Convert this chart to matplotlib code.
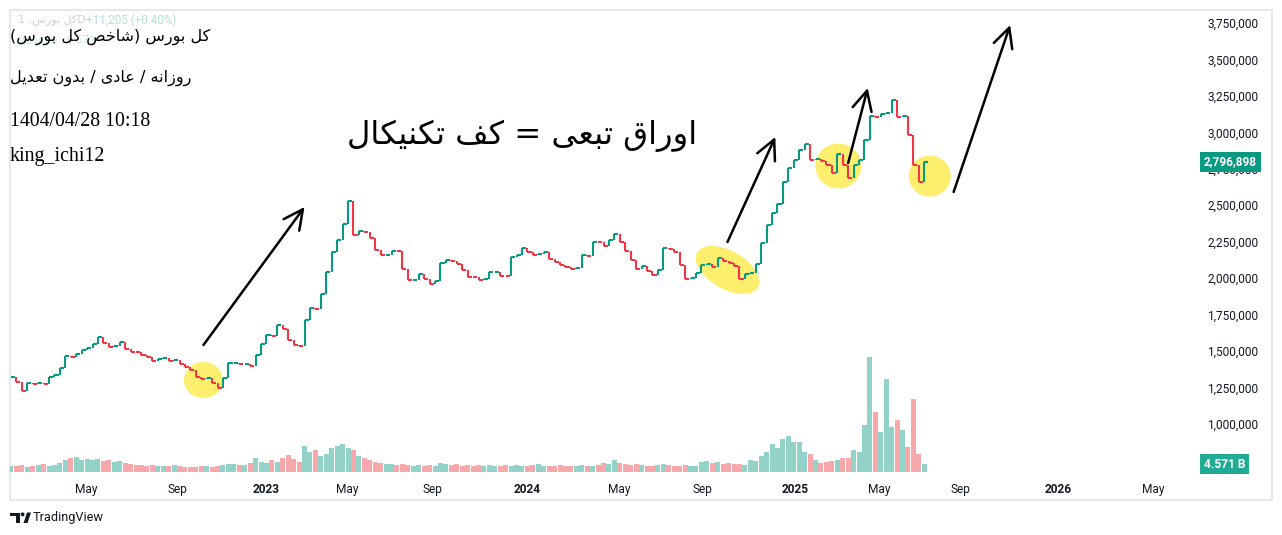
import numpy as np
import matplotlib.pyplot as plt
from matplotlib import transforms
from matplotlib.collections import LineCollection
from matplotlib.patches import Ellipse, Rectangle, Circle, Polygon

# weekly samples (5 trading bars each)
closes = [
    1322000, 1288000, 1226000, 1281000, 1274000, 1281000, 1274000, 1322000, 1336000, 1384000,
    1466000, 1459000, 1480000, 1507000, 1521000, 1548000, 1596000, 1555000, 1528000, 1535000,
    1562000, 1514000, 1493000, 1490000, 1473000, 1459000, 1432000, 1445000, 1452000, 1432000,
    1439000, 1411000, 1390000, 1370000, 1322000, 1308000, 1315000, 1281000, 1246000, 1315000,
    1418000, 1420000, 1411000, 1414000, 1397000, 1473000, 1548000, 1610000, 1603000, 1679000,
    1651000, 1576000, 1541000, 1535000, 1713000, 1795000, 1788000, 1891000, 2042000, 2179000,
    2262000, 2371000, 2530000, 2296000, 2323000, 2316000, 2275000, 2193000, 2159000, 2162000,
    2186000, 2183000, 2063000, 1987000, 1990000, 2028000, 1994000, 1960000, 1980000, 2104000,
    2124000, 2120000, 2097000, 2056000, 2008000, 2005000, 1987000, 1994000, 2042000, 2045000,
    2015000, 2012000, 2145000, 2159000, 2207000, 2179000, 2159000, 2166000, 2179000, 2131000,
    2111000, 2090000, 2076000, 2063000, 2070000, 2159000, 2155000, 2248000, 2245000, 2220000,
    2262000, 2303000, 2248000, 2186000, 2124000, 2063000, 2083000, 2049000, 2022000, 2056000,
    2207000, 2200000, 2179000, 2090000, 1994000, 2001000, 2035000, 2090000, 2097000, 2076000,
    2138000, 2118000, 2104000, 2083000, 1994000, 2028000, 2035000, 2097000, 2241000, 2364000,
    2447000, 2508000, 2659000, 2755000, 2810000, 2879000, 2920000, 2810000, 2815000, 2805000,
    2776000, 2721000, 2851000, 2776000, 2687000, 2776000, 2810000, 2947000, 3112000, 3108000,
    3126000, 3133000, 3225000, 3105000, 3112000, 2982000, 2776000, 2659000, 2796898,
]

# volume in billions
volumes = [
    3.4, 3.4, 4.0, 2.9, 3.4, 4.0, 4.6, 3.4, 4.0, 5.1,
    6.9, 8.0, 8.6, 6.9, 7.4, 6.9, 7.4, 6.3, 6.9, 5.7,
    6.3, 5.1, 4.6, 4.0, 4.0, 3.4, 4.0, 3.4, 3.4, 3.4,
    4.0, 3.4, 2.9, 2.9, 2.9, 3.4, 3.4, 2.9, 3.4, 4.0,
    4.6, 4.6, 4.0, 4.0, 5.1, 8.0, 5.7, 5.1, 6.9, 5.7,
    8.0, 9.7, 7.4, 5.7, 14.8, 11.4, 12.6, 9.1, 10.3, 13.7,
    14.8, 16.0, 13.7, 12.6, 9.1, 8.0, 6.9, 5.7, 5.1, 4.6,
    4.6, 4.0, 4.6, 4.0, 3.4, 4.0, 3.4, 4.0, 3.4, 5.1,
    4.6, 4.0, 4.6, 3.4, 4.0, 3.4, 4.0, 3.4, 4.0, 3.4,
    3.4, 4.0, 3.4, 4.0, 3.4, 3.4, 4.0, 4.6, 3.4, 3.4,
    3.4, 4.0, 3.4, 3.4, 3.4, 4.0, 3.4, 3.4, 4.0, 5.1,
    4.6, 6.9, 5.1, 4.6, 4.0, 4.6, 4.0, 3.4, 3.4, 4.0,
    4.6, 4.0, 3.4, 3.4, 4.0, 3.4, 3.4, 5.7, 6.3, 5.1,
    5.7, 4.6, 5.1, 4.6, 4.6, 4.0, 6.9, 6.3, 9.1, 11.4,
    16.0, 13.7, 18.8, 20.6, 17.1, 17.1, 11.4, 10.3, 6.9, 5.1,
    5.7, 6.3, 6.9, 8.0, 8.0, 12.6, 11.4, 26.8, 65.7, 34.3,
    22.8, 53.1, 25.7, 29.7, 24.0, 14.3, 41.7, 10.3, 4.571,
]

bars_per_sample = 5
tick_labels = ["May", "Sep", "2023", "May", "Sep", "2024", "May", "Sep",
               "2025", "May", "Sep", "2026", "May"]
tick_bars = [69, 153, 235, 309, 388, 475, 559, 636, 721, 799, 873, 963, 1051]
price_ticks = list(range(1000000, 3750001, 250000))

# annotations: ellipses (bar, price, w px, h px, angle) and arrows
marks = [(177, 1301000, 39, 36, 0), (659, 2056000, 70, 38, -30),
         (761, 2769000, 46, 45, 0), (845, 2700000, 42, 41, 0)]
arrows = [((177, 1541000), (270, 2488000)), ((659, 2248000), (703, 2968000)),
          ((770, 2790000), (788, 3304000)), ((867, 2591000), (919, 3736000))]

title1 = "کل بورس (شاخص کل بورس)"
title2 = "روزانه / عادی / بدون تعدیل"
stamp = "1404/04/28 10:18"
author = "king_ichi12"
note = "اوراق تبعی = کف تکنیکال"

# --- minimal persian shaping (matplotlib has no bidi/shaping) ---
FORMS = {
    'ا': ('\uFE8D', '\uFE8E', None, None),
    'ب': ('\uFE8F', '\uFE90', '\uFE91', '\uFE92'),
    'ت': ('\uFE95', '\uFE96', '\uFE97', '\uFE98'),
    'خ': ('\uFEA5', '\uFEA6', '\uFEA7', '\uFEA8'),
    'د': ('\uFEA9', '\uFEAA', None, None),
    'ر': ('\uFEAD', '\uFEAE', None, None),
    'ز': ('\uFEAF', '\uFEB0', None, None),
    'س': ('\uFEB1', '\uFEB2', '\uFEB3', '\uFEB4'),
    'ش': ('\uFEB5', '\uFEB6', '\uFEB7', '\uFEB8'),
    'ص': ('\uFEB9', '\uFEBA', '\uFEBB', '\uFEBC'),
    'ع': ('\uFEC9', '\uFECA', '\uFECB', '\uFECC'),
    'ف': ('\uFED1', '\uFED2', '\uFED3', '\uFED4'),
    'ق': ('\uFED5', '\uFED6', '\uFED7', '\uFED8'),
    'ک': ('\uFB8E', '\uFB8F', '\uFB90', '\uFB91'),
    'ل': ('\uFEDD', '\uFEDE', '\uFEDF', '\uFEE0'),
    'ن': ('\uFEE5', '\uFEE6', '\uFEE7', '\uFEE8'),
    'ه': ('\uFEE9', '\uFEEA', '\uFEEB', '\uFEEC'),
    'و': ('\uFEED', '\uFEEE', None, None),
    'ی': ('\uFBFC', '\uFBFD', '\uFBFE', '\uFBFF'),
}
MIRROR = {'(': ')', ')': '('}


def fa(s):
    out = []
    for i, c in enumerate(s):
        if c not in FORMS:
            out.append(MIRROR.get(c, c))
            continue
        prev = s[i - 1] if i > 0 else ''
        nxt = s[i + 1] if i + 1 < len(s) else ''
        jp = prev in FORMS and FORMS[prev][2] is not None
        jn = FORMS[c][2] is not None and nxt in FORMS
        f = FORMS[c]
        if jp and jn:
            out.append(f[3])
        elif jp:
            out.append(f[1])
        elif jn:
            out.append(f[2])
        else:
            out.append(f[0])
    return ''.join(out[::-1])


W, H = 1282, 535
fig = plt.figure(figsize=(W / 100, H / 100), dpi=100)
fig.patch.set_facecolor('white')


def box(x0, y0, x1, y1):
    return [x0 / W, 1 - y1 / H, (x1 - x0) / W, (y1 - y0) / H]


bg = fig.add_axes([0, 0, 1, 1], zorder=0)
bg.set_xlim(0, W)
bg.set_ylim(H, 0)
bg.axis('off')
bg.add_patch(Rectangle((10, 10), 1262, 490, fc='none', ec='#e0e3eb', lw=1.2))

vax = fig.add_axes(box(10, 10, 1170, 472), zorder=1)
ax = fig.add_axes(box(10, 10, 1170, 472), zorder=2, sharex=vax)
for a in (ax, vax):
    a.patch.set_visible(False)
    for s in a.spines.values():
        s.set_visible(False)

c = np.array(closes, dtype=float)
o = np.r_[c[0], c[:-1]]
x = np.arange(len(c)) * bars_per_sample
up = c >= o
green, red = '#089981', '#f23645'
col = np.where(up, green, red)
vcol = np.where(up, '#92d2c8', '#f7a8ab')

vax.bar(x, volumes, width=4.6, color=vcol, linewidth=0)
vax.set_ylim(0, 264)
vax.set_yticks([])
vax.tick_params(axis='x', length=0, labelbottom=False)

# thin candle bodies packed side by side: vertical body + short flat run at the close
segs, segcol = [], []
for xi, oi, ci, cc in zip(x, o, c, col):
    segs.append([(xi, oi), (xi, ci)])
    segs.append([(xi, ci), (xi + bars_per_sample * 0.75, ci)])
    segcol += [cc, cc]
ax.add_collection(LineCollection(segs, colors=segcol, linewidths=1.5,
                                 capstyle='butt', zorder=3))
ax.set_xlim(-0.9, 1066)
ax.set_ylim(670300, 3839000)

ax.yaxis.tick_right()
ax.set_yticks(price_ticks)
ax.set_yticklabels([f"{v:,}" for v in price_ticks])
ax.tick_params(axis='y', length=0, pad=27, labelsize=8.6, labelcolor='#131722')
ax.set_xticks(tick_bars)
ax.set_xticklabels(tick_labels)
ax.tick_params(axis='x', length=0, pad=8, labelsize=8.6, labelcolor='#131722')
for t in ax.get_yticklabels() + ax.get_xticklabels():
    t.set_family('Roboto')
for t in ax.get_xticklabels():
    if t.get_text().isdigit():
        t.set_fontweight('bold')

for bx, by, w, h, ang in marks:
    tr = fig.dpi_scale_trans + transforms.ScaledTranslation(bx, by, ax.transData)
    ax.add_patch(Ellipse((0, 0), w / 100, h / 100, angle=ang, transform=tr,
                         fc='#fdee6e', ec='none', zorder=1))

for (x0, y0), (x1, y1) in arrows:
    ax.annotate('', xy=(x1, y1), xytext=(x0, y0),
                arrowprops=dict(arrowstyle='->,head_length=0.7,head_width=0.35',
                                mutation_scale=20, lw=1.8, color='black',
                                shrinkA=0, shrinkB=0), zorder=5)

# last value labels on the scales
tp = transforms.blended_transform_factory(fig.transFigure, ax.transData)
ax.text(1204 / W, closes[-1], f"{closes[-1]:,}", transform=tp, clip_on=False,
        ha='left', va='center', color='white', fontsize=8.6, family='Roboto',
        fontweight='bold', zorder=10,
        bbox=dict(boxstyle='square,pad=0.3', fc=green, ec='none'))
tv = transforms.blended_transform_factory(fig.transFigure, vax.transData)
vax.text(1204 / W, volumes[-1], f"{volumes[-1]:.3f} B", transform=tv, clip_on=False,
         ha='left', va='center', color='white', fontsize=8.6, family='Roboto',
         fontweight='bold', zorder=10,
         bbox=dict(boxstyle='square,pad=0.3', fc='#22ab94', ec='none'))

# faint legend behind the text notes
fig.text(18 / W, 1 - 20 / H, "1 ," + fa("کل بورس") + "D", fontsize=8,
         family='DejaVu Sans', color='#787b86', alpha=0.35, va='center')
fig.text(86 / W, 1 - 20 / H, "+11,205 (+0.40%)", fontsize=8.4, family='Roboto',
         color=green, alpha=0.3, va='center')
fig.text(18 / W, 1 - 40 / H, "Volume   4.571", fontsize=8.4, family='Roboto',
         color=green, alpha=0.2, va='center')

fig.text(10 / W, 1 - 37 / H, fa(title1), fontsize=11.5, family='DejaVu Sans',
         color='black', va='center')
fig.text(10 / W, 1 - 78 / H, fa(title2), fontsize=11.6, family='DejaVu Sans',
         color='black', va='center')
fig.text(10 / W, 1 - 121 / H, stamp, fontsize=14.3, family='Liberation Serif',
         color='black', va='center')
fig.text(10 / W, 1 - 157 / H, author, fontsize=14.3, family='Liberation Serif',
         color='black', va='center')
fig.text(522 / W, 1 - 136 / H, fa(note), fontsize=23.2, family='DejaVu Sans',
         color='black', va='center', ha='center')

# TradingView mark
bg.add_patch(Rectangle((10, 512.5), 9.5, 3.6, fc='#131722', ec='none'))
bg.add_patch(Rectangle((15.6, 512.5), 3.9, 10.5, fc='#131722', ec='none'))
bg.add_patch(Circle((22.6, 514.4), 1.9, fc='#131722', ec='none'))
bg.add_patch(Polygon([(23.5, 523), (27.5, 523), (31, 512.5), (27, 512.5)],
                     fc='#131722', ec='none'))
bg.text(33, 517.5, "TradingView", fontsize=9.2, family='Roboto', color='#131722',
        va='center', ha='left')

fig.savefig('out.png', dpi=100, facecolor='white')
